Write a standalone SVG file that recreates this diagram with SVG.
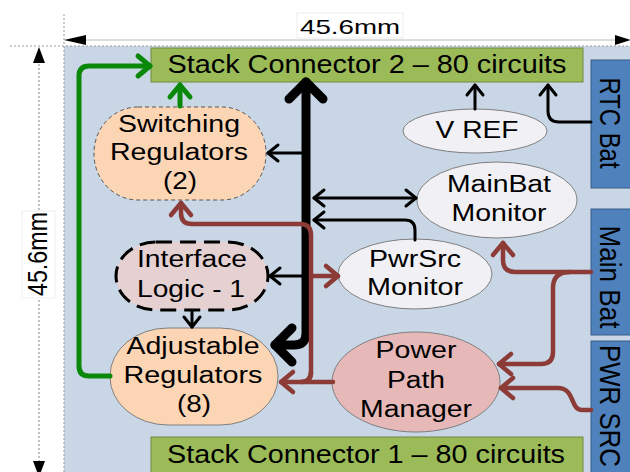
<svg xmlns="http://www.w3.org/2000/svg" width="630" height="472" viewBox="0 0 630 472">
<defs>
<style>
text{font-family:"Liberation Sans",Arial,sans-serif;fill:#000;text-anchor:middle}
.t{font-size:23.5px}
.sc{fill:#9bbb59;stroke:#71893f;stroke-width:1}
.bb{fill:#4f81bd;stroke:#385d8a;stroke-width:1}
.ell{fill:#f0f0f5;stroke:#7f7f7f;stroke-width:1}
.g{fill:none;stroke:#0a880a;stroke-width:5;stroke-linecap:round;stroke-linejoin:round}
.k{fill:none;stroke:#000;stroke-width:3;stroke-linecap:round;stroke-linejoin:round}
.kk{fill:none;stroke:#000;stroke-width:9;stroke-linecap:round;stroke-linejoin:round}
.r{fill:none;stroke:#8c3b36;stroke-width:4.5;stroke-linecap:round;stroke-linejoin:round}
.dim{fill:none;stroke:#999;stroke-width:1;stroke-dasharray:2,2}
</style>
<marker id="mg" markerUnits="userSpaceOnUse" markerWidth="40" markerHeight="40" viewBox="-20 -20 40 40" refX="0" refY="0" orient="auto" overflow="visible"><path d="M-12,-10 L0,0 L-12,10" fill="none" stroke="#0a880a" stroke-width="5" stroke-linecap="round" stroke-linejoin="round"/></marker>
<marker id="mk" markerUnits="userSpaceOnUse" markerWidth="40" markerHeight="40" viewBox="-20 -20 40 40" refX="0" refY="0" orient="auto" overflow="visible"><path d="M-10,-8 L0,0 L-10,8" fill="none" stroke="#000" stroke-width="3" stroke-linecap="round" stroke-linejoin="round"/></marker>
<marker id="mks" markerUnits="userSpaceOnUse" markerWidth="40" markerHeight="40" viewBox="-20 -20 40 40" refX="0" refY="0" orient="auto-start-reverse" overflow="visible"><path d="M-10,-8 L0,0 L-10,8" fill="none" stroke="#000" stroke-width="3" stroke-linecap="round" stroke-linejoin="round"/></marker>
<marker id="mkk" markerUnits="userSpaceOnUse" markerWidth="60" markerHeight="60" viewBox="-30 -30 60 60" refX="0" refY="0" orient="auto-start-reverse" overflow="visible"><path d="M-17,-17 L0,0 L-17,17" fill="none" stroke="#000" stroke-width="9" stroke-linecap="round" stroke-linejoin="round"/></marker>
<marker id="mr" markerUnits="userSpaceOnUse" markerWidth="40" markerHeight="40" viewBox="-20 -20 40 40" refX="0" refY="0" orient="auto" overflow="visible"><path d="M-12,-10 L0,0 L-12,10" fill="none" stroke="#8c3b36" stroke-width="4.5" stroke-linecap="round" stroke-linejoin="round"/></marker>
</defs>
<rect x="0" y="0" width="630" height="472" fill="#fff"/>
<rect x="64" y="46" width="570" height="430" fill="#c8d6e6"/>
<g id="dimensions">
<path class="dim" d="M64,14 V472 M10,46 H630"/>
<line x1="70" y1="40" x2="625" y2="40" stroke="#bbb" stroke-width="1"/>
<polygon points="64,40 86,35 86,45" fill="#000"/>
<polygon points="631,40 615,35 615,45" fill="#000"/>
<line x1="39" y1="60" x2="39" y2="466" stroke="#888" stroke-width="1" stroke-dasharray="2,2"/>
<polygon points="39,47 33,63 45,63" fill="#000"/>
<polygon points="33,461 45,461 39,477" fill="#000"/>
<rect x="297" y="13" width="106" height="25" fill="#fff" stroke="#eee" stroke-width="1"/>
<text x="350" y="34" style="font-size:21px" textLength="100" lengthAdjust="spacingAndGlyphs">45.6mm</text>
<rect x="22" y="211" width="33" height="87" fill="#fff" stroke="#eee" stroke-width="1"/>
<text transform="translate(47,254) rotate(-90) scale(1,1.25)" style="font-size:22px" textLength="84" lengthAdjust="spacingAndGlyphs">45.6mm</text>
</g>
<g id="sc2"><rect class="sc" x="151" y="48" width="432" height="34"/><text x="367" y="73" style="font-size:25px" textLength="399" lengthAdjust="spacingAndGlyphs">Stack Connector 2 – 80 circuits</text></g>
<g id="sc1"><rect class="sc" x="151" y="437" width="432" height="40"/><text x="366" y="463" style="font-size:25px" textLength="398" lengthAdjust="spacingAndGlyphs">Stack Connector 1 – 80 circuits</text></g>
<g id="rtcbat"><rect class="bb" x="591" y="60" width="45" height="128"/><text transform="translate(600,123) rotate(90) scale(1,1.3)" style="font-size:23px" textLength="91" lengthAdjust="spacingAndGlyphs">RTC Bat</text></g>
<g id="mainbat"><rect class="bb" x="591" y="209" width="45" height="126"/><text transform="translate(600,277) rotate(90) scale(1,1.3)" style="font-size:23px" textLength="103" lengthAdjust="spacingAndGlyphs">Main Bat</text></g>
<g id="pwrsrc"><rect class="bb" x="591" y="341" width="45" height="140"/><text transform="translate(600,406) rotate(90) scale(1,1.3)" style="font-size:23px" textLength="122" lengthAdjust="spacingAndGlyphs">PWR SRC</text></g>
<g id="switching"><rect x="94" y="107" width="172" height="93" rx="44" ry="46" fill="#fcd5b5" stroke="#555" stroke-width="1" stroke-dasharray="4,3"/>
<text class="t" x="179" y="132" textLength="122" lengthAdjust="spacingAndGlyphs">Switching</text>
<text class="t" x="179" y="160" textLength="138" lengthAdjust="spacingAndGlyphs">Regulators</text>
<text class="t" x="180" y="189" textLength="34" lengthAdjust="spacingAndGlyphs">(2)</text></g>
<g id="interface"><rect x="116" y="242" width="152" height="68" rx="40" ry="34" fill="#e5d0d2" stroke="#000" stroke-width="3" stroke-dasharray="16,8"/>
<text class="t" x="192" y="267" textLength="110" lengthAdjust="spacingAndGlyphs">Interface</text>
<text class="t" x="191" y="297" textLength="108" lengthAdjust="spacingAndGlyphs">Logic - 1</text></g>
<g id="adjustable"><rect x="110" y="328" width="168" height="97" rx="58" ry="48" fill="#fcd5b5" stroke="#7f7f7f" stroke-width="1"/>
<text class="t" x="193" y="354" textLength="133" lengthAdjust="spacingAndGlyphs">Adjustable</text>
<text class="t" x="193" y="383" textLength="139" lengthAdjust="spacingAndGlyphs">Regulators</text>
<text class="t" x="194" y="412" textLength="34" lengthAdjust="spacingAndGlyphs">(8)</text></g>
<g id="vref"><ellipse class="ell" cx="475" cy="131" rx="72" ry="22"/><text x="477" y="138" style="font-size:24px" textLength="83" lengthAdjust="spacingAndGlyphs">V REF</text></g>
<g id="mainbatmon"><ellipse class="ell" cx="497" cy="200" rx="80" ry="38"/>
<text class="t" x="499" y="192" textLength="104" lengthAdjust="spacingAndGlyphs">MainBat</text>
<text class="t" x="499" y="221" textLength="95" lengthAdjust="spacingAndGlyphs">Monitor</text></g>
<g id="pwrsrcmon"><ellipse class="ell" cx="415" cy="274" rx="77" ry="35"/>
<text class="t" x="415" y="267" textLength="92" lengthAdjust="spacingAndGlyphs">PwrSrc</text>
<text class="t" x="415" y="295" textLength="96" lengthAdjust="spacingAndGlyphs">Monitor</text></g>
<g id="ppm"><ellipse cx="416" cy="382" rx="84" ry="50" fill="#e6b9b8" stroke="#7f7f7f" stroke-width="1"/>
<text class="t" x="416" y="358" textLength="81" lengthAdjust="spacingAndGlyphs">Power</text>
<text class="t" x="416" y="388" textLength="58" lengthAdjust="spacingAndGlyphs">Path</text>
<text class="t" x="416" y="417" textLength="112" lengthAdjust="spacingAndGlyphs">Manager</text></g>
<g id="connectors">
<path class="g" d="M110,376 H89 Q79,376 79,366 V76 Q79,66 89,66 H150" marker-end="url(#mg)"/>
<path class="g" d="M180,106 V85" marker-end="url(#mg)"/>
<path class="kk" d="M306,82 V333 Q306,345 294,345 H275" marker-start="url(#mkk)" marker-end="url(#mkk)"/>
<path class="k" d="M302,153 H268" marker-end="url(#mk)"/>
<path class="k" d="M314,198 H416" marker-start="url(#mks)" marker-end="url(#mks)"/>
<path class="k" d="M415,240 V230 Q415,220 405,220 H314" marker-end="url(#mk)"/>
<path class="k" d="M302,276 H270" marker-end="url(#mk)"/>
<path class="k" d="M192,311 V327" marker-end="url(#mk)"/>
<path class="k" d="M475,109 V85" marker-end="url(#mk)"/>
<path class="k" d="M591,122 H559 Q548,122 548,111 V85" marker-end="url(#mk)"/>
<path class="r" d="M333,382 H301 Q311,382 311,372 V235 Q311,224 300,224 H192 Q181,224 181,213 V203" marker-end="url(#mr)"/>
<path class="r" d="M311,372 Q311,382 301,382 H281" marker-end="url(#mr)"/>
<path class="r" d="M311,276 H338" marker-end="url(#mr)"/>
<path class="r" d="M591,272 H515 Q503,272 503,260 V243" marker-end="url(#mr)"/>
<path class="r" d="M570,272 Q553,272 553,288 V352 Q553,364 541,364 H499" marker-end="url(#mr)"/>
<path class="r" d="M591,410 H582 C570,410 575,388 558,388 H501" marker-end="url(#mr)"/>
</g>
</svg>
